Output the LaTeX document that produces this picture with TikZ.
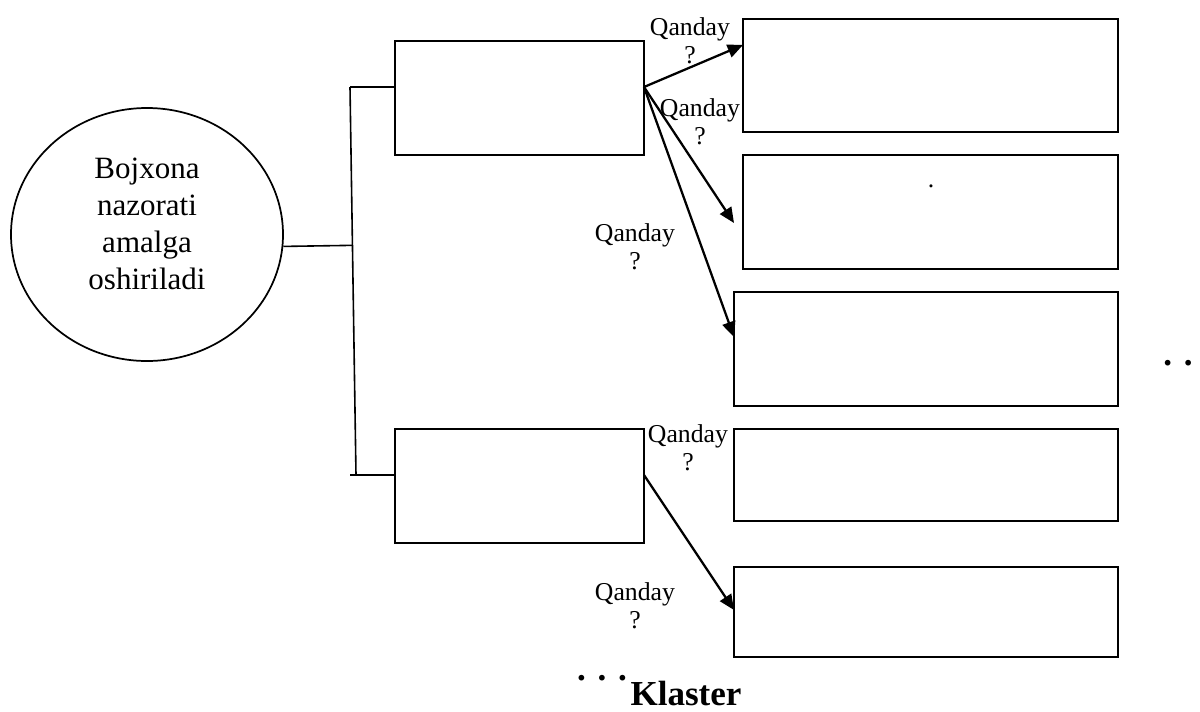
\documentclass[tikz,border=0pt]{standalone}
\usepackage{fontspec}
\setmainfont{Liberation Serif}
\usepackage{tikz}
\usetikzlibrary{calc}
\usetikzlibrary{arrows.meta}
\usetikzlibrary{shapes.geometric}
\tikzset{
  blok/.style={draw, rectangle, line width=1.4pt, inner sep=0pt, outer sep=0pt},
  link/.style={line width=1.2pt},
  qarrow/.style={line width=1.7pt, ->, >={Triangle[length=11.5pt,width=10pt]}},
  qlabel/.style={align=center, inner sep=0pt, font=\fontsize{19.3}{21}\selectfont},
  bigdots/.style={inner sep=0pt, anchor=base, font=\fontsize{26.3}{30}\selectfont\bfseries}
}

\begin{document}
\begin{tikzpicture}[x=0.75pt, y=-0.75pt]
\useasboundingbox (0,0) rectangle (1200,711);

% centre: ellipse and its text
\node[ellipse, draw, line width=1.3pt, minimum width=204pt, minimum height=189.75pt, inner sep=0pt] (ell) at (147,234.5) {};
\node[align=center, inner sep=0pt, font=\fontsize{23.25}{27.75}\selectfont] (elltxt) at (147,223.5) {Bojxona\\nazorati\\amalga\\oshiriladi};

% left column
\node[blok, minimum width=186.75pt, minimum height=85.5pt] (tl) at (519.5,98) {};
\node[blok, minimum width=186.75pt, minimum height=85.5pt] (bl) at (519.5,486) {};

% right column
\foreach \n/\cx/\cy/\w/\h in {r1/930.5/75.5/281.25/84.75, r2/930.5/212/281.25/85.5,
    r3/926/349/288/85.5, r4/926/475/288/69, r5/926/612/288/67.5}
  \node[blok, minimum width=\w pt, minimum height=\h pt] (\n) at (\cx,\cy) {};

% spine
\coordinate (sp1) at (350,87);
\coordinate (sp2) at (356,475);
\coordinate (sp3) at (350,475);
\draw[link] (sp1) -- (sp2);
\draw[link] (ell.-5) -- ($(sp1)!(ell.-5)!(sp2)$);
\draw[link] (sp1) -- (sp1 -| tl.west);
\draw[link] (sp3) -- (sp3 -| bl.west);

% arrows
\coordinate (fork) at (tl.east |- sp1);
\draw[qarrow] (fork) -- ([yshift=22.9pt]r1.west);
\draw[qarrow] (fork) -- ([xshift=-6.75pt,yshift=-8.25pt]r2.west);
\draw[qarrow] (fork) -- ([yshift=9pt]r3.west);
\draw[qarrow] (bl.east |- sp2) -- ([yshift=1.5pt]r5.west);

% labels
\foreach \x/\y [count=\i] in {690/40.5, 700/122, 635/247, 688/447.5, 635/605.5}
  \node[qlabel] (q\i) at (\x,\y) {Qanday\\?};

\node[inner sep=0pt, anchor=base, font=\fontsize{19.3}{21}\selectfont] (dot) at (931,187) {.};
\node[bigdots] (dotsr) at (1178,365) {. .};
\node[bigdots] (dotsb) at (602,680) {. . .};
\node[bigdots] (klaster) at (686,705) {Klaster};
\end{tikzpicture}
\end{document}
